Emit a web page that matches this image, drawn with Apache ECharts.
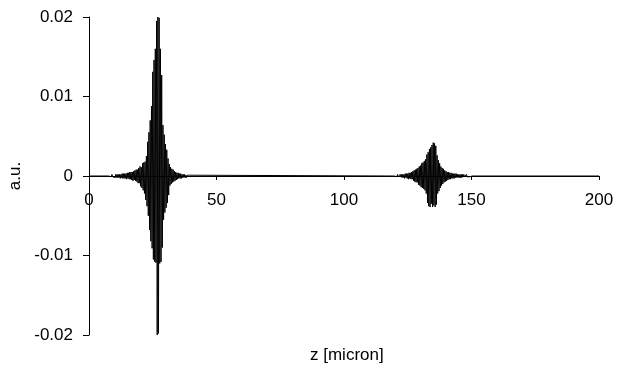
<!DOCTYPE html>
<html>
<head>
<meta charset="utf-8">
<script src="https://cdn.jsdelivr.net/npm/echarts@6/dist/echarts.min.js"></script>
<style>
  html, body { margin: 0; padding: 0; background: #fff; }
  #chart { width: 619px; height: 368px; }
</style>
</head>
<body>
<div id="chart"></div>
<script>
// axis ticks
var xTicks = [0, 50, 100, 150, 200];
var yTicks = [-0.02, -0.01, 0, 0.01, 0.02];

// flat stretches of the trace (z in micron, value in a.u.)
var leadZ = [0, 7.75];
var leadVals = [0, 0];
var midZ = [40.25, 119.75];
var midVals = [0, 0];
var tailZ = [150.25, 200];
var tailVals = [0, 0];

// first wave packet, sampled every 0.25 micron from z = 8
var packet1Start = 8;
var packet1Vals = [
  0.0001,-0.0001,0.0001,-0.0001,0.0002,-0.0001,0.0001,-0.0002,0.0001,-0.0002,
  0.0002,-0.0002,0.0002,-0.0002,0.0002,-0.0002,0.0002,-0.0003,0.0002,-0.0002,
  0.0003,-0.0003,0.0003,-0.0003,0.0003,-0.0003,0.0003,-0.0004,0.0004,-0.0003,
  0.0004,-0.0004,0.0005,-0.0004,0.0005,-0.0005,0.0005,-0.0006,0.0006,-0.0005,
  0.0007,-0.0006,0.0008,-0.0007,0.0008,-0.0009,0.001,-0.0009,
  0.0012,-0.0013,0.0011,-0.0015,0.0016,-0.0018,0.0017,-0.0022,
  0.0018,-0.003,0.0025,-0.0038,0.0043,-0.005,0.0055,-0.0068,
  0.007,-0.0082,0.0088,-0.0091,0.0131,-0.0105,0.0146,-0.0108,
  0.016,-0.0109,0.0195,-0.02,0.02,-0.0198,0.0199,-0.011,
  0.016,-0.0108,0.0127,-0.009,0.0064,-0.0055,0.0052,-0.0046,
  0.004,-0.004,0.0033,-0.0034,0.0022,-0.0024,0.0015,-0.0012,
  0.0011,-0.001,0.0009,-0.0008,0.0008,-0.0007,0.0006,-0.0006,
  0.0005,-0.0005,0.0004,-0.0004,0.0004,-0.0003,0.0003,-0.0003,0.0003,-0.0003,
  0.0002,-0.0002,0.0002,-0.0002,0.0002,-0.0002,0.0001,-0.0002,0.0001,-0.0001,
  0.0001,-0.0001,0.0001,-0.0001,0.0001
];

// second wave packet, sampled every 0.25 micron from z = 120
var packet2Start = 120;
var packet2Vals = [
  0.0001,-0.0001,0.0001,-0.0001,0.0002,-0.0001,0.0001,-0.0002,0.0002,-0.0001,
  0.0002,-0.0002,0.0002,-0.0002,0.0002,-0.0003,0.0003,-0.0002,0.0003,-0.0003,
  0.0003,-0.0004,0.0004,-0.0003,0.0004,-0.0004,0.0005,-0.0004,
  0.0006,-0.0006,0.0007,-0.0007,0.0008,-0.0008,0.0009,-0.0008,0.001,-0.0011,0.0012,-0.0012,
  0.0013,-0.0014,0.0016,-0.0015,0.0017,-0.0016,0.0019,-0.0018,
  0.0021,-0.0022,0.0027,-0.0034,0.003,-0.0038,0.0034,-0.0039,
  0.0036,-0.0035,0.0039,-0.0039,0.0042,-0.0037,0.0041,-0.0039,
  0.0038,-0.0036,0.0026,-0.0022,
  0.002,-0.0019,0.0016,-0.0015,0.0012,-0.0012,0.001,-0.001,0.0009,-0.0008,0.0007,-0.0007,0.0006,
  -0.0006,0.0005,-0.0005,0.0005,-0.0004,0.0004,-0.0004,0.0004,-0.0003,0.0003,
  -0.0003,0.0003,-0.0003,0.0003,-0.0002,0.0003,-0.0002,0.0002,-0.0002,0.0002,
  -0.0002,0.0002,-0.0002,0.0002,-0.0002,0.0002,-0.0001,0.0002,-0.0001,0.0001,
  -0.0001,0.0002,-0.0001,0.0001,-0.0001,0.0001,-0.0001,0.0001,-0.0001,0.0001
];
var packetStep = 0.25;

function pairs(zs, vals) {
  return vals.map(function (v, i) { return [zs[i], v]; });
}
function sampled(start, vals) {
  return vals.map(function (v, i) { return [start + i * packetStep, v]; });
}

var trace = [].concat(
  pairs(leadZ, leadVals),
  sampled(packet1Start, packet1Vals),
  pairs(midZ, midVals),
  sampled(packet2Start, packet2Vals),
  pairs(tailZ, tailVals)
);

var font = 'Liberation Sans, Arial, sans-serif';
var chart = echarts.init(document.getElementById('chart'));
chart.setOption({
  animation: false,
  grid: { left: 89, right: 20, top: 17, bottom: 33, containLabel: false, outerBoundsMode: 'none' },
  xAxis: {
    type: 'value',
    min: xTicks[0],
    max: xTicks[xTicks.length - 1],
    interval: 50,
    position: 'bottom',
    offset: -159,
    axisLine: { onZero: false, lineStyle: { color: '#000', width: 1 } },
    axisTick: { show: true, length: 4, lineStyle: { color: '#000' } },
    axisLabel: { color: '#000', fontFamily: font, fontSize: 17, margin: 16 },
    splitLine: { show: false }
  },
  yAxis: {
    type: 'value',
    min: yTicks[0],
    max: yTicks[yTicks.length - 1],
    interval: 0.01,
    name: 'a.u.',
    nameLocation: 'middle',
    nameRotate: 90,
    nameGap: 53,
    nameTextStyle: { color: '#000', fontFamily: font, fontSize: 17 },
    axisLine: { show: true, lineStyle: { color: '#000', width: 1 } },
    axisTick: { show: true, length: 6, lineStyle: { color: '#000' } },
    axisLabel: { color: '#000', fontFamily: font, fontSize: 17, margin: 16 },
    splitLine: { show: false }
  },
  graphic: [{
    type: 'text',
    left: 310,
    top: 347,
    style: { text: 'z [micron]', fill: '#000', font: '17px ' + font }
  }],
  series: [{
    type: 'line',
    data: trace,
    showSymbol: false,
    sampling: false,
    lineStyle: { color: '#000', width: 1 }
  }]
});
</script>
</body>
</html>
